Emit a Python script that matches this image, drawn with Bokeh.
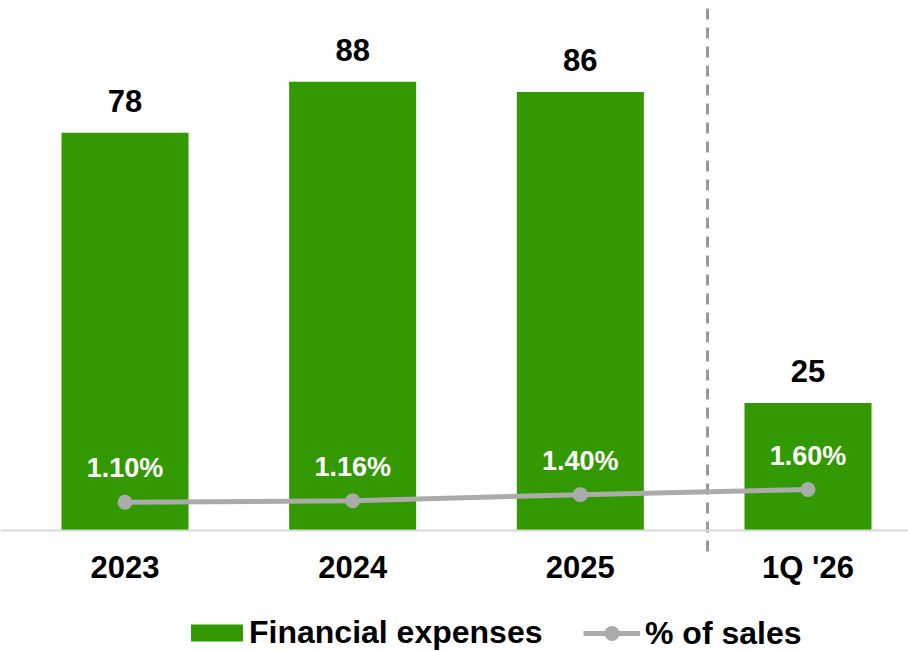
from bokeh.plotting import figure
from bokeh.models import Range1d, FixedTicker, Legend, LegendItem, ColumnDataSource
from bokeh.core.properties import value
from bokeh.embed import file_html
from bokeh.resources import INLINE

# ---- data ----
categories = ["2023", "2024", "2025", "1Q '26"]
expenses = [78, 88, 86, 25]
pct_sales = [1.10, 1.16, 1.40, 1.60]
pct_labels = ["1.10%", "1.16%", "1.40%", "1.60%"]
expense_labels = [str(v) for v in expenses]

xs = list(range(len(categories)))

GREEN = "#339900"
GRAY = "#ababab"
FONT = "Liberation Sans"

src = ColumnDataSource(dict(x=xs, exp=expenses, pct=pct_sales,
                            pct_lab=pct_labels, exp_lab=expense_labels))

p = figure(width=908, height=651, output_backend="svg", toolbar_location=None,
           x_range=Range1d(-0.5468, 3.4414), y_range=Range1d(-23.73, 103.92),
           y_axis_location=None, min_border=0, outline_line_color=None,
           background_fill_color="white", border_fill_color="white")
p.extra_y_ranges = {"pct": Range1d(-4.727, 20.70)}
p.grid.visible = False

bars = p.vbar(x="x", top="exp", width=0.558, source=src, fill_color=GREEN,
              line_color=None)

# separator between annual and quarterly data
sep_x = 2.5586
p.segment(x0=[sep_x], y0=[102.35], x1=[sep_x], y1=[-5.7], line_dash="11 8",
          line_color="#999999", line_width=3)

line = p.line(x="x", y="pct", source=src, y_range_name="pct",
              line_color=GRAY, line_width=5)
dots = p.scatter(x="x", y="pct", source=src, y_range_name="pct", size=15,
                 fill_color=GRAY, line_color=None)

p.text(x="x", y="exp", text="exp_lab", source=src, text_align="center",
       text_baseline="alphabetic", y_offset=-32, text_font=value(FONT),
       text_font_style="bold", text_font_size="31px", text_color="black")
p.text(x="x", y="pct", text="pct_lab", source=src, y_range_name="pct",
       text_align="center", text_baseline="alphabetic", y_offset=-34,
       text_font=value(FONT), text_font_style="bold", text_font_size="27px",
       text_color="white")

ax = p.xaxis[0]
ax.fixed_location = 0
ax.ticker = FixedTicker(ticks=xs)
ax.major_label_overrides = {i: c for i, c in zip(xs, categories)}
ax.axis_line_color = "#d9d9d9"
ax.axis_line_width = 2
ax.major_tick_line_color = None
ax.minor_tick_line_color = None
ax.major_label_standoff = 14
ax.major_label_text_font = FONT
ax.major_label_text_font_style = "bold"
ax.major_label_text_font_size = "31px"
ax.major_label_text_color = "black"

leg1 = Legend(items=[LegendItem(label="Financial expenses", renderers=[bars])],
              location=(184, 0), glyph_width=65, glyph_height=21,
              label_standoff=0, padding=0, margin=0, border_line_color=None,
              background_fill_alpha=0, label_text_font=FONT,
              label_text_font_style="bold", label_text_font_size="32px",
              label_text_color="black")
leg2 = Legend(items=[LegendItem(label="% of sales", renderers=[line, dots])],
              location=(583, -1), glyph_width=57, glyph_height=38,
              label_standoff=5, padding=0, margin=0, border_line_color=None,
              background_fill_alpha=0, label_text_font=FONT,
              label_text_font_style="bold", label_text_font_size="32px",
              label_text_color="black")
p.add_layout(leg1, "center")
p.add_layout(leg2, "center")

open("out.html", "w").write(file_html(p, INLINE))
